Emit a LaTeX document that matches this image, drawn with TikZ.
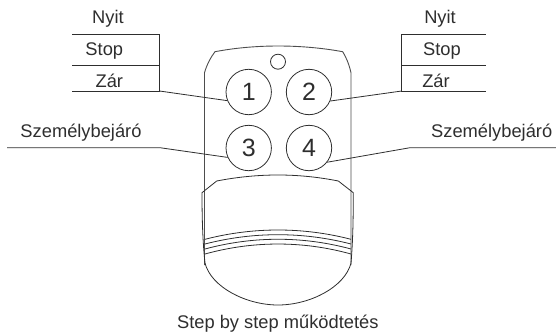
\documentclass[tikz,border=0pt]{standalone}
\usepackage{fontspec}
\setmainfont{Liberation Sans}
\definecolor{ink}{HTML}{2E2E2E}
\begin{document}
\begin{tikzpicture}[x=1pt,y=-1pt,
  ln/.style={draw=ink,line width=0.8pt},
  body/.style={draw=ink!85,line width=0.9pt},
  btn/.style={circle,draw=ink,line width=0.8pt,minimum size=45.4pt,inner sep=0pt,font=\fontsize{25}{25}\selectfont,text=ink},
  hole/.style={circle,draw=ink,line width=0.8pt,minimum size=15pt,inner sep=0pt},
  lab/.style={font=\fontsize{18.3}{18.3}\selectfont,text=ink,inner sep=0pt,anchor=base}]
\useasboundingbox (0,0) rectangle (556,332);
% body
\draw[body] (204.5,265) -- (204.5,72.7) .. controls (207,64) and (211,57) .. (215,51.7)
  .. controls (255,44.1) and (301,44.1) .. (342.7,51.7) .. controls (346,57) and (349,64) .. (351,72.7) -- (351,265);
% clip
\draw[ln] (205,263) .. controls (202.5,240) and (202,215) .. (202,192.7) -- (216.7,181)
  .. controls (258,173) and (298,173) .. (338.3,181) -- (353.3,192.7)
  .. controls (353.3,215) and (353,240) .. (351,263)
  .. controls (345,287) and (310,305) .. (278,305) .. controls (246,305) and (211,287) .. (205,263) -- cycle;
% stripes
\draw[ln] (205,239.3) .. controls (253,226.9) and (303,226.9) .. (351,239.3);
\draw[ln] (205,244) .. controls (253,231.6) and (303,231.6) .. (351,244);
\draw[ln] (205,249) .. controls (253,236) and (303,236) .. (351,249);
\draw[ln] (205,254) .. controls (253,240.7) and (303,240.7) .. (351,254);
% buttons
\node[hole] (h) at (278,61.7) {};
\node[btn] (b1) at (248.7,92) {1};
\node[btn] (b2) at (309,92) {2};
\node[btn] (b3) at (248.7,148) {3};
\node[btn] (b4) at (309,148) {4};
% left panel
\coordinate (lt) at (159.5,34);
\coordinate (lm) at (159.5,65.7);
\coordinate (lb) at (159.5,91);
\coordinate (ls) at (160,147.7);
\draw[ln] (72,34) -- (lt) -- (lb) -- (72,91);
\draw[ln] (72,65.7) -- (lm);
\draw[ln] (lb) -- (b1.202);
\draw[ln] (7,147.7) -- (ls) -- (b3.204);
% right panel
\coordinate (rt) at (401.7,34);
\coordinate (rm) at (401.7,65.7);
\coordinate (rb) at (401.7,91);
\coordinate (rs) at (410,147.7);
\draw[ln] (485.7,34) -- (rt) -- (rb) -- (485.7,91);
\draw[ln] (485.7,65.7) -- (rm);
\draw[ln] (rb) -- (b2.-23);
\draw[ln] (556,147.7) -- (rs) -- (b4.-38);
% labels
\node[lab] (n1) at (108,23.5) {Nyit};
\node[lab] (n2) at (104.3,55) {Stop};
\node[lab] (n3) at (109.3,87) {Zár};
\node[lab] (n4) at (81,137.3) {Személybejáró};
\node[lab] (n5) at (440,23.5) {Nyit};
\node[lab] (n6) at (442,55) {Stop};
\node[lab] (n7) at (436,87) {Zár};
\node[lab] (n8) at (491.7,137.3) {Személybejáró};
\node[lab] (n9) at (277.8,328) {Step by step működtetés};
\end{tikzpicture}
\end{document}
